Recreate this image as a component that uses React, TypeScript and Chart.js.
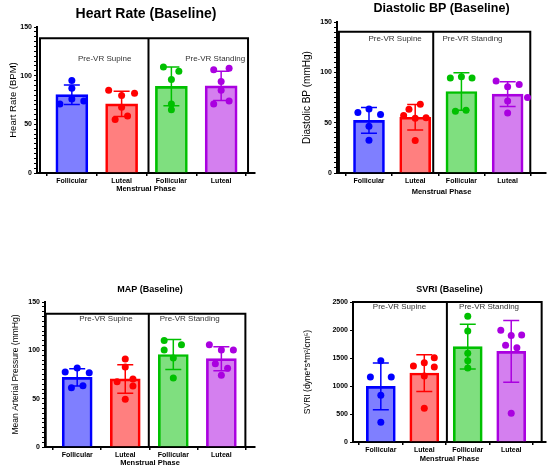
import React, { useEffect, useRef } from 'react';
import Chart from 'chart.js/auto';

Chart.defaults.font.family = "'Liberation Sans', Arial, sans-serif";

const groupLabels = ['Follicular', 'Luteal', 'Follicular', 'Luteal'];
const phaseLabels = ['Pre-VR Supine', 'Pre-VR Standing'];
const fillColors = ['rgba(0,0,255,0.5)', 'rgba(255,0,0,0.5)', 'rgba(0,192,0,0.5)', 'rgba(170,0,224,0.5)'];
const lineColors = ['#0000ff', '#ff0000', '#00c000', '#aa00e0'];

// Heart rate
const hrMeans = [80.5, 71, 89, 89.5];
const hrSd = [10, 13, 20, 15];
const hrPoints = [
  [95, 87, 76, 71, 74],
  [85, 82, 79.5, 67.5, 58.5, 55],
  [109, 104.5, 96, 71, 65],
  [106, 107.5, 94, 85, 71, 74],
];
const hrJitter = [
  [0, 0, 0, -0.24, 0.24],
  [-0.26, 0.26, 0, 0, 0.12, -0.13],
  [-0.16, 0.15, 0, 0, 0],
  [-0.15, 0.16, 0, 0, -0.15, 0.16],
];

// Diastolic BP
const dbpMeans = [52.3, 55.4, 81, 78.3];
const dbpSd = [12.8, 12.6, 18.6, 12.3];
const dbpPoints = [
  [60, 63.7, 58, 46.5, 32.5],
  [68.4, 63.4, 57, 54.4, 55, 32.2],
  [94.3, 95.6, 94.3, 61.4, 62.4],
  [91.3, 88, 85.6, 75, 71.4, 59.7],
];
const dbpJitter = [
  [-0.24, 0, 0.25, 0, 0],
  [0.11, -0.135, -0.25, 0, 0.235, 0],
  [-0.24, 0, 0.23, -0.13, 0.1],
  [-0.25, 0.25, 0, 0.43, 0, 0],
];

// MAP
const mapMeans = [72, 70.4, 95.7, 91.4];
const mapSd = [9, 14.8, 15.4, 12.4];
const mapPoints = [
  [77.6, 81.7, 76.9, 61.4, 63.4],
  [91, 82.8, 67.6, 70.3, 63.1, 49.3],
  [110.3, 105.9, 100.3, 92, 71.4],
  [105.9, 100.3, 100.3, 86.2, 81.4, 74.1],
];
const mapJitter = [
  [-0.25, 0, 0.25, -0.12, 0.12],
  [0, 0, -0.17, 0.16, 0.16, 0],
  [-0.19, 0.17, -0.19, 0, 0],
  [-0.25, 0.25, 0, -0.125, 0.13, 0],
];

// SVRI
const svriMeans = [994, 1232, 1702, 1618];
const svriSd = [417, 328, 399, 553];
const svriPoints = [
  [1452, 1160, 1160, 833, 351],
  [1506, 1357, 1417, 1339, 1179, 601],
  [2244, 1982, 1583, 1452, 1321],
  [1994, 1910, 1904, 1726, 1684, 512],
];
const svriJitter = [
  [0, -0.24, 0.24, 0, 0],
  [0.23, -0.25, 0, 0.23, 0, 0],
  [0, 0, 0, 0, 0],
  [-0.24, 0.24, 0, -0.13, 0.13, 0],
];

const bpTicks = [0, 50, 100, 150];
const svriTicks = [0, 500, 1000, 1500, 2000, 2500];

type PanelCfg = {
  title: string;
  yTitle: string;
  means: number[];
  sd: number[];
  points: number[][];
  jitter: number[][];
  yMax: number;
  yTicks: number[];
  minorStep: number;
  box: { left: number; mid: number; right: number; top: number };
  phaseX: number[];
  phaseY: number;
  left: number;
  top: number;
  width: number;
  height: number;
  chartLeft: number;
  chartRight: number;
  chartTop: number;
  chartBottom: number;
  xMin: number;
  xMax: number;
  titleY: number;
  titleSize: number;
  yTitleX: number;
  yTitleSize: number;
  xTitleY: number;
  barWidth: number;
};

const panels: PanelCfg[] = [
  {
    title: 'Heart Rate (Baseline)', yTitle: 'Heart Rate (BPM)',
    means: hrMeans, sd: hrSd, points: hrPoints, jitter: hrJitter,
    yMax: 150, yTicks: bpTicks, minorStep: 5,
    box: { left: 0.36, mid: 2.54, right: 4.54, top: 138.5 }, phaseX: [1.66, 3.88], phaseY: 117,
    left: 0, top: 0, width: 275, height: 235,
    chartLeft: 37, chartRight: 255, chartTop: 27, chartBottom: 173, xMin: 0.3, xMax: 4.68,
    titleY: 14, titleSize: 14, yTitleX: 13, yTitleSize: 9.5, xTitleY: 189, barWidth: 32,
  },
  {
    title: 'Diastolic BP (Baseline)', yTitle: 'Diastolic BP (mmHg)',
    means: dbpMeans, sd: dbpSd, points: dbpPoints, jitter: dbpJitter,
    yMax: 150, yTicks: bpTicks, minorStep: 5,
    box: { left: 0.35, mid: 2.39, right: 4.49, top: 140.4 }, phaseX: [1.565, 3.24], phaseY: 133.4,
    left: 275, top: 0, width: 275, height: 235,
    chartLeft: 62, chartRight: 273, chartTop: 22, chartBottom: 173, xMin: 0.308, xMax: 4.83,
    titleY: 9, titleSize: 12.5, yTitleX: 32, yTitleSize: 10, xTitleY: 192, barWidth: 31,
  },
  {
    title: 'MAP (Baseline)', yTitle: 'Mean Arterial Pressure (mmHg)',
    means: mapMeans, sd: mapSd, points: mapPoints, jitter: mapJitter,
    yMax: 150, yTicks: bpTicks, minorStep: 5,
    box: { left: 0.345, mid: 2.49, right: 4.5, top: 137.9 }, phaseX: [1.6, 3.34], phaseY: 132.4,
    left: 0, top: 235, width: 275, height: 237,
    chartLeft: 45, chartRight: 255, chartTop: 67, chartBottom: 212, xMin: 0.33, xMax: 4.7,
    titleY: 55, titleSize: 9, yTitleX: 16, yTitleSize: 8.5, xTitleY: 228, barWidth: 30,
  },
  {
    title: 'SVRI (Baseline)', yTitle: 'SVRI (dyne*s*m²/cm⁵)',
    means: svriMeans, sd: svriSd, points: svriPoints, jitter: svriJitter,
    yMax: 2500, yTicks: svriTicks, minorStep: 500,
    box: { left: 0.36, mid: 2.52, right: 4.7, top: 2500 }, phaseX: [1.43, 3.49], phaseY: 2417,
    left: 275, top: 235, width: 275, height: 237,
    chartLeft: 78, chartRight: 272, chartTop: 67, chartBottom: 207, xMin: 0.36, xMax: 4.8,
    titleY: 55, titleSize: 9, yTitleX: 33, yTitleSize: 8.5, xTitleY: 224, barWidth: 29,
  },
];

function Panel({ cfg }: { cfg: PanelCfg }) {
  const ref = useRef<HTMLCanvasElement | null>(null);

  useEffect(() => {
    if (!ref.current) return;

    // group boxes, phase labels and error bars
    const groupPlugin = {
      id: 'groups',
      beforeDatasetsDraw(chart: Chart) {
        const { ctx } = chart;
        const x = chart.scales.x;
        const y = chart.scales.y;
        const top = y.getPixelForValue(cfg.box.top);
        const bottom = y.getPixelForValue(0);
        const l = x.getPixelForValue(cfg.box.left);
        const m = x.getPixelForValue(cfg.box.mid);
        const r = x.getPixelForValue(cfg.box.right);
        ctx.save();
        ctx.strokeStyle = '#000';
        ctx.lineWidth = 2;
        ctx.beginPath();
        ctx.moveTo(l, bottom);
        ctx.lineTo(l, top);
        ctx.lineTo(r, top);
        ctx.lineTo(r, bottom);
        ctx.moveTo(m, top);
        ctx.lineTo(m, bottom);
        ctx.stroke();
        ctx.font = "8px 'Liberation Sans', Arial, sans-serif";
        ctx.fillStyle = '#333';
        ctx.textAlign = 'center';
        ctx.textBaseline = 'middle';
        phaseLabels.forEach((t, i) => {
          ctx.fillText(t, x.getPixelForValue(cfg.phaseX[i]), y.getPixelForValue(cfg.phaseY));
        });
        ctx.restore();
      },
      afterDatasetDraw(chart: Chart, args: { index: number }) {
        if (args.index !== 0) return;
        const { ctx } = chart;
        const x = chart.scales.x;
        const y = chart.scales.y;
        ctx.save();
        ctx.lineWidth = 1.5;
        cfg.means.forEach((mean, i) => {
          const px = x.getPixelForValue(i + 1);
          const hi = y.getPixelForValue(mean + cfg.sd[i]);
          const lo = y.getPixelForValue(mean - cfg.sd[i]);
          ctx.strokeStyle = lineColors[i];
          ctx.beginPath();
          ctx.moveTo(px, hi);
          ctx.lineTo(px, lo);
          ctx.moveTo(px - 8, hi);
          ctx.lineTo(px + 8, hi);
          ctx.moveTo(px - 8, lo);
          ctx.lineTo(px + 8, lo);
          ctx.stroke();
        });
        ctx.restore();
      },
    };

    const yTickValues: number[] = [];
    for (let v = 0; v <= cfg.yMax; v += cfg.minorStep) yTickValues.push(v);

    const chart = new Chart(ref.current, {
      type: 'bar',
      data: {
        datasets: [
          {
            type: 'bar',
            data: cfg.means.map((m, i) => ({ x: i + 1, y: m })),
            backgroundColor: fillColors,
            borderColor: lineColors,
            borderWidth: 2,
            barThickness: cfg.barWidth,
            order: 2,
          },
          ...cfg.points.map((pts, i) => ({
            type: 'scatter' as const,
            data: pts.map((v, j) => ({ x: i + 1 + cfg.jitter[i][j], y: v })),
            pointRadius: 3.5,
            pointBackgroundColor: lineColors[i],
            pointBorderWidth: 0,
            order: 1,
          })),
        ],
      } as any,
      options: {
        responsive: false,
        animation: false,
        events: [],
        layout: {
          padding: { left: 0, top: 0, bottom: 0, right: cfg.width - cfg.chartRight },
        },
        plugins: {
          legend: { display: false },
          tooltip: { enabled: false },
          title: {
            display: true,
            text: cfg.title,
            fullSize: false,
            color: '#000',
            font: { size: cfg.titleSize, weight: 'bold', lineHeight: 1 },
            padding: {
              top: cfg.titleY - cfg.titleSize / 2,
              bottom: cfg.chartTop - cfg.titleY - cfg.titleSize / 2,
            },
          },
        },
        scales: {
          x: {
            type: 'linear',
            offset: false,
            min: cfg.xMin,
            max: cfg.xMax,
            afterFit: (s: any) => {
              s.height = cfg.height - cfg.chartBottom;
            },
            afterBuildTicks: (s: any) => {
              s.ticks = groupLabels.map((_, i) => ({ value: i + 1 }));
            },
            ticks: {
              autoSkip: false,
              maxRotation: 0,
              padding: 1,
              color: '#000',
              font: { size: 7, weight: 'bold' },
              callback: (v: any) => groupLabels[Number(v) - 1] ?? '',
            },
            grid: { drawOnChartArea: false, tickLength: 3, color: '#000', lineWidth: 1.5 },
            border: { color: '#000', width: 2 },
            title: {
              display: true,
              text: 'Menstrual Phase',
              color: '#000',
              font: { size: 7.5, weight: 'bold', lineHeight: 1 },
              padding: { top: 0, bottom: cfg.height - cfg.xTitleY - 3.75 },
            },
          },
          y: {
            type: 'linear',
            min: 0,
            max: cfg.yMax,
            afterFit: (s: any) => {
              s.width = cfg.chartLeft;
            },
            afterBuildTicks: (s: any) => {
              s.ticks = yTickValues.map((v) => ({ value: v }));
            },
            ticks: {
              autoSkip: false,
              padding: 2,
              color: '#000',
              font: { size: 7, weight: 'bold' },
              callback: (v: any) => (cfg.yTicks.includes(Number(v)) ? String(v) : ''),
            },
            grid: { drawOnChartArea: false, tickLength: 3, color: '#000', lineWidth: 1 },
            border: { color: '#000', width: 2 },
            title: {
              display: true,
              text: cfg.yTitle,
              color: '#000',
              font: { size: cfg.yTitleSize, lineHeight: 1 },
              padding: { top: cfg.yTitleX - cfg.yTitleSize / 2, bottom: 0 },
            },
          },
        },
      } as any,
      plugins: [groupPlugin as any],
    });

    return () => {
      chart.destroy();
    };
  }, [cfg]);

  return (
    <canvas
      ref={ref}
      width={cfg.width}
      height={cfg.height}
      style={{ position: 'absolute', left: cfg.left, top: cfg.top, width: cfg.width, height: cfg.height }}
    />
  );
}

export default function App() {
  return (
    <div style={{ position: 'fixed', left: 0, top: 0, width: 550, height: 472, background: '#fff' }}>
      {panels.map((p) => (
        <Panel key={p.title} cfg={p} />
      ))}
    </div>
  );
}
